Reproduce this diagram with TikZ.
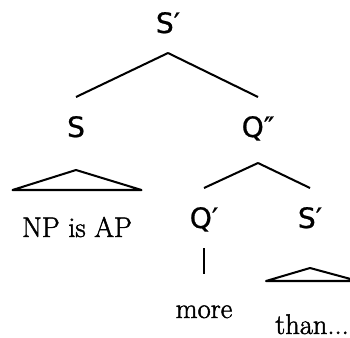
\documentclass[tikz,border=0pt]{standalone}
\usepackage{fontspec}
\newfontfamily\catfont[FakeBold=0.8]{DejaVu Sans}
\newfontfamily\leaffont[FakeBold=1.6]{Latin Modern Roman}
\usepackage{tikz}
\usetikzlibrary{positioning}

\begin{document}
\begin{tikzpicture}[x=0.02cm, y=-0.02cm, line width=1.15pt,
    cat/.style={anchor=base, font=\catfont\fontsize{16}{18}\selectfont,
      text height=0.4cm, text depth=0pt, inner xsep=0pt, inner ysep=0.38cm},
    leaf/.style={anchor=base, font=\leaffont\fontsize{16.2}{18}\selectfont,
      text height=0.34cm, text depth=0pt, inner xsep=0pt, inner ysep=0.52cm},
    roof/.style={line join=round}]
    \useasboundingbox (0,0) rectangle (350,337);

    \node[cat] (Sbar) at (168,33) {S′};
    \node[cat] (S) at (76,137) {S};
    \node[cat] (Qbarbar) at (258,137) {Q″};
    \node[cat] (Qbar) at (204,228) {Q′};
    \node[cat] (Sbartwo) at (310,228) {S′};

    \node[leaf, minimum width=2.54cm] (NPisAP) at (77,237) {NP is AP};
    \node[leaf] (more) at (204,318) {more};
    \node[leaf, minimum width=1.8cm] (than) at (312,334) {than...};

    \draw (Sbar.south) -- (S.north);
    \draw (Sbar.south) -- (Qbarbar.north);
    \draw ([yshift=-0.12cm]Qbarbar.south) -- (Qbar.north);
    \draw ([yshift=-0.12cm]Qbarbar.south) -- (Sbartwo.north);
    \draw (Qbar.south) -- (more.north);

    % roofs
    \draw[roof] ([yshift=-0.26cm]S.south) -- ([yshift=0.06cm]NPisAP.north west)
      -- ([yshift=0.06cm]NPisAP.north east) -- cycle;
    \draw[roof] ([yshift=-0.4cm]Sbartwo.south) -- ([yshift=0.18cm]than.north west)
      -- ([yshift=0.18cm]than.north east) -- cycle;
\end{tikzpicture}
\end{document}
